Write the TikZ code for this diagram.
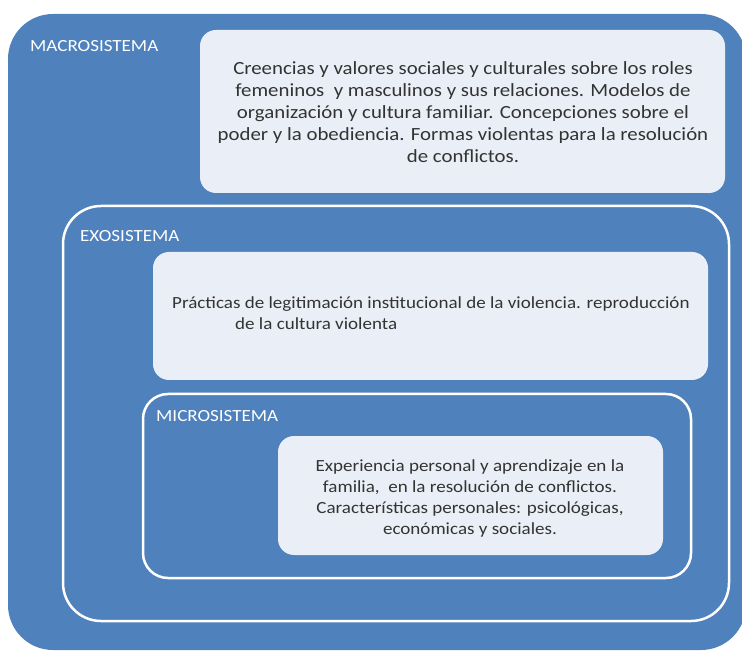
\documentclass[tikz,border=0pt]{standalone}
\usepackage{fontspec}
\setmainfont{Carlito}
\newfontfamily\widefont[FakeStretch=1.12]{Carlito}
\definecolor{mblue}{HTML}{4F81BD}
\definecolor{lbox}{HTML}{EAEFF7}
\definecolor{tgray}{HTML}{333333}
\begin{document}
\begin{tikzpicture}[x=1pt,y=-1pt,
  outerbox/.style={fill=mblue,draw=none,rounded corners=45pt},
  ringbox/.style={draw=white,line width=2.5pt,rounded corners=#1},
  ringbox/.default=35pt,
  textbox/.style={fill=lbox,draw=none,rounded corners=16pt},
  title/.style={text=white,font=\widefont\fontsize{17}{19}\selectfont,anchor=west,inner sep=0pt},
  body/.style={text=tgray,font=\widefont\fontsize{17}{21}\selectfont,align=center,inner sep=0pt},
  bigbody/.style={body,font=\widefont\fontsize{18.6}{22}\selectfont}]
\useasboundingbox (0,0) rectangle (742,652);
\fill[white] (0,0) rectangle (742,652);
\path[outerbox] (8,14) rectangle (746,650);
\path[textbox] (200,30) rectangle (725,193);
\node[title] (macro) at (30,46) {MACROSISTEMA};
\node[bigbody] (macrot) at (463,112) {Creencias y valores sociales y culturales sobre los roles\\femeninos\ \ y masculinos y sus relaciones. Modelos de\\organización y cultura familiar. Concepciones sobre el\\poder y la obediencia. Formas violentas para la resolución\\de conflictos.};
\path[ringbox=38pt] (63,206) rectangle (729,621);
\node[title] (exo) at (80,236) {EXOSISTEMA};
\path[textbox] (153,252) rectangle (708,380);
\node[body,align=left,anchor=north west] (exot) at (172,296) {Prácticas de legitimación institucional de la violencia. reproducción\\\hspace*{63pt}de la cultura violenta};
\path[ringbox=25pt] (143,394) rectangle (691,578);
\node[title] (micro) at (156,416) {MICROSISTEMA};
\path[textbox] (278,436) rectangle (663,555);
\node[body] (microt) at (470,498) {Experiencia personal y aprendizaje en la\\familia,\ \ en la resolución de conflictos.\\Características personales: psicológicas,\\económicas y sociales.};
\end{tikzpicture}
\end{document}
